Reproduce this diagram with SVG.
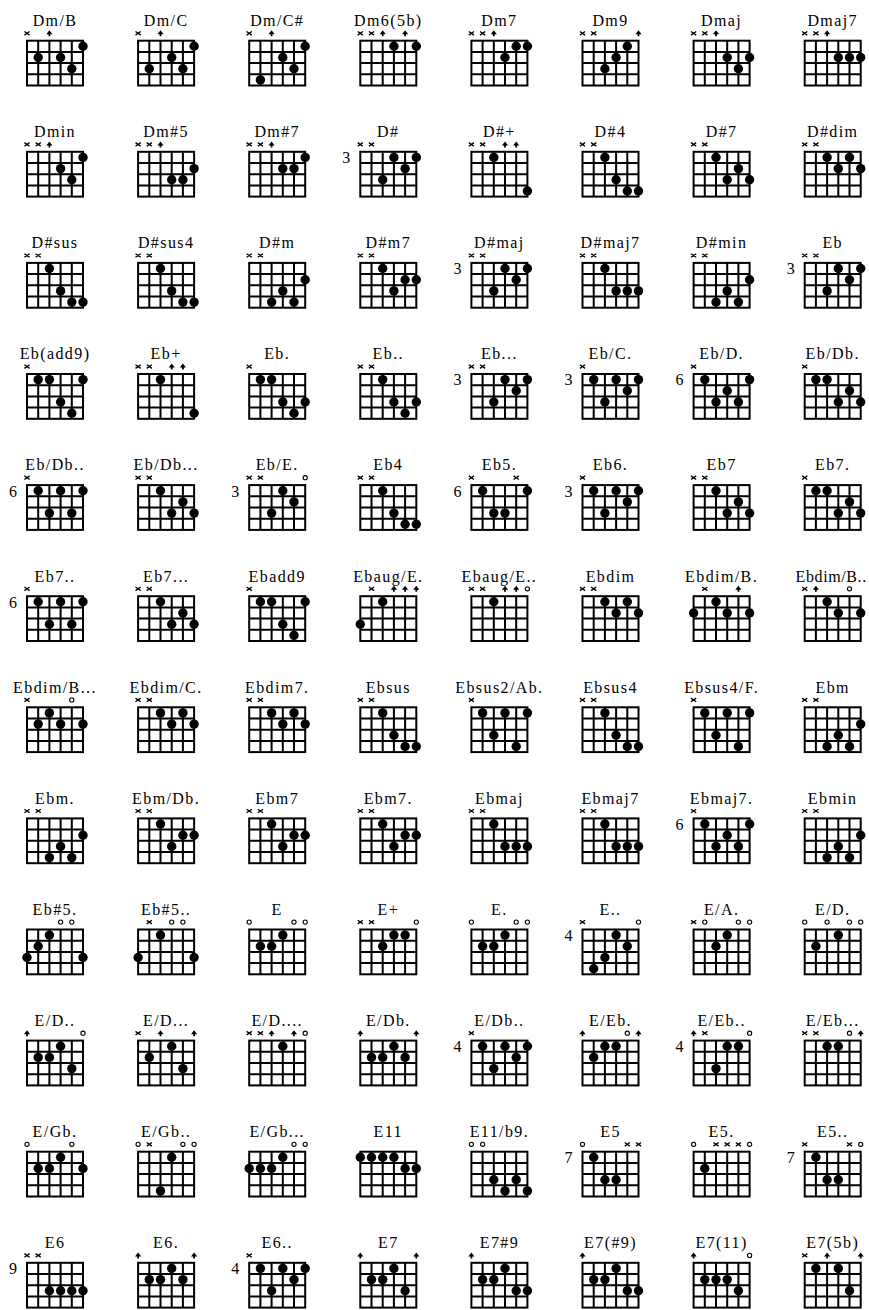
<svg xmlns="http://www.w3.org/2000/svg" width="869" height="1310" viewBox="0 0 869 1310">
<style>
.l{font-family:"Liberation Serif","Times New Roman",serif;font-size:16px;letter-spacing:1.4px;text-anchor:middle;fill:#000}
.f{font-family:"Liberation Serif","Times New Roman",serif;font-size:16px;text-anchor:middle;fill:#000}
.gr{fill:none;stroke:#000;stroke-width:2}
circle{fill:#000}
</style>
<defs>
<g id="grid" class="gr"><rect width="56" height="44.8"/><path d="M11.2 0V44.8M22.4 0V44.8M33.6 0V44.8M44.8 0V44.8M0 11.2H56M0 22.4H56M0 33.6H56"/></g>
<path id="mx" d="M-2.6 -9.2L2.6 -5.6M-2.6 -5.6L2.6 -9.2" fill="none" stroke="#000" stroke-width="1.3"/>
<circle id="mo" cy="-7.4" r="2.1" style="fill:none;stroke:#000;stroke-width:1.1"/>
<path id="m4" d="M-3.1 -6.4L0 -10.4L3.1 -6.4ZM-0.9 -6.6H0.9V-4.4H-0.9Z" fill="#000"/>
</defs>
<rect width="869" height="1310" fill="#fff"/>

<g id="n01" transform="translate(27,40.7)"><text class="l" x="28" y="-14.7">Dm/B</text><use href="#grid"/><use href="#mx" x="0"/><use href="#m4" x="22.4"/><circle cx="56" cy="5.6" r="4.7"/><circle cx="11.2" cy="16.8" r="4.7"/><circle cx="33.6" cy="16.8" r="4.7"/><circle cx="44.8" cy="28" r="4.7"/></g>
<g id="n02" transform="translate(138.1,40.7)"><text class="l" x="28" y="-14.7">Dm/C</text><use href="#grid"/><use href="#mx" x="0"/><use href="#m4" x="22.4"/><circle cx="56" cy="5.6" r="4.7"/><circle cx="33.6" cy="16.8" r="4.7"/><circle cx="11.2" cy="28" r="4.7"/><circle cx="44.8" cy="28" r="4.7"/></g>
<g id="n03" transform="translate(249.2,40.7)"><text class="l" x="28" y="-14.7">Dm/C#</text><use href="#grid"/><use href="#mx" x="0"/><use href="#m4" x="22.4"/><circle cx="56" cy="5.6" r="4.7"/><circle cx="33.6" cy="16.8" r="4.7"/><circle cx="44.8" cy="28" r="4.7"/><circle cx="11.2" cy="39.2" r="4.7"/></g>
<g id="n04" transform="translate(360.3,40.7)"><text class="l" x="28" y="-14.7">Dm6(5b)</text><use href="#grid"/><use href="#mx" x="0"/><use href="#mx" x="11.2"/><use href="#m4" x="22.4"/><use href="#m4" x="44.8"/><circle cx="33.6" cy="5.6" r="4.7"/><circle cx="56" cy="5.6" r="4.7"/></g>
<g id="n05" transform="translate(471.4,40.7)"><text class="l" x="28" y="-14.7">Dm7</text><use href="#grid"/><use href="#mx" x="0"/><use href="#mx" x="11.2"/><use href="#m4" x="22.4"/><circle cx="44.8" cy="5.6" r="4.7"/><circle cx="56" cy="5.6" r="4.7"/><circle cx="33.6" cy="16.8" r="4.7"/></g>
<g id="n06" transform="translate(582.5,40.7)"><text class="l" x="28" y="-14.7">Dm9</text><use href="#grid"/><use href="#mx" x="0"/><use href="#mx" x="11.2"/><use href="#m4" x="56"/><circle cx="44.8" cy="5.6" r="4.7"/><circle cx="33.6" cy="16.8" r="4.7"/><circle cx="22.4" cy="28" r="4.7"/></g>
<g id="n07" transform="translate(693.6,40.7)"><text class="l" x="28" y="-14.7">Dmaj</text><use href="#grid"/><use href="#mx" x="0"/><use href="#mx" x="11.2"/><use href="#m4" x="22.4"/><circle cx="33.6" cy="16.8" r="4.7"/><circle cx="56" cy="16.8" r="4.7"/><circle cx="44.8" cy="28" r="4.7"/></g>
<g id="n08" transform="translate(804.7,40.7)"><text class="l" x="28" y="-14.7">Dmaj7</text><use href="#grid"/><use href="#mx" x="0"/><use href="#mx" x="11.2"/><use href="#m4" x="22.4"/><circle cx="33.6" cy="16.8" r="4.7"/><circle cx="44.8" cy="16.8" r="4.7"/><circle cx="56" cy="16.8" r="4.7"/></g>

<g id="n09" transform="translate(27,151.8)"><text class="l" x="28" y="-14.7">Dmin</text><use href="#grid"/><use href="#mx" x="0"/><use href="#mx" x="11.2"/><use href="#m4" x="22.4"/><circle cx="56" cy="5.6" r="4.7"/><circle cx="33.6" cy="16.8" r="4.7"/><circle cx="44.8" cy="28" r="4.7"/></g>
<g id="n10" transform="translate(138.1,151.8)"><text class="l" x="28" y="-14.7">Dm#5</text><use href="#grid"/><use href="#mx" x="0"/><use href="#mx" x="11.2"/><use href="#m4" x="22.4"/><circle cx="56" cy="16.8" r="4.7"/><circle cx="33.6" cy="28" r="4.7"/><circle cx="44.8" cy="28" r="4.7"/></g>
<g id="n11" transform="translate(249.2,151.8)"><text class="l" x="28" y="-14.7">Dm#7</text><use href="#grid"/><use href="#mx" x="0"/><use href="#mx" x="11.2"/><use href="#m4" x="22.4"/><circle cx="56" cy="5.6" r="4.7"/><circle cx="33.6" cy="16.8" r="4.7"/><circle cx="44.8" cy="16.8" r="4.7"/></g>
<g id="n12" transform="translate(360.3,151.8)"><text class="l" x="28" y="-14.7">D#</text><text class="f" x="-14" y="11.4">3</text><use href="#grid"/><use href="#mx" x="0"/><use href="#mx" x="11.2"/><circle cx="33.6" cy="5.6" r="4.7"/><circle cx="56" cy="5.6" r="4.7"/><circle cx="44.8" cy="16.8" r="4.7"/><circle cx="22.4" cy="28" r="4.7"/></g>
<g id="n13" transform="translate(471.4,151.8)"><text class="l" x="28" y="-14.7">D#+</text><use href="#grid"/><use href="#mx" x="0"/><use href="#mx" x="11.2"/><use href="#m4" x="33.6"/><use href="#m4" x="44.8"/><circle cx="22.4" cy="5.6" r="4.7"/><circle cx="56" cy="39.2" r="4.7"/></g>
<g id="n14" transform="translate(582.5,151.8)"><text class="l" x="28" y="-14.7">D#4</text><use href="#grid"/><use href="#mx" x="0"/><use href="#mx" x="11.2"/><circle cx="22.4" cy="5.6" r="4.7"/><circle cx="33.6" cy="28" r="4.7"/><circle cx="44.8" cy="39.2" r="4.7"/><circle cx="56" cy="39.2" r="4.7"/></g>
<g id="n15" transform="translate(693.6,151.8)"><text class="l" x="28" y="-14.7">D#7</text><use href="#grid"/><use href="#mx" x="0"/><use href="#mx" x="11.2"/><circle cx="22.4" cy="5.6" r="4.7"/><circle cx="44.8" cy="16.8" r="4.7"/><circle cx="33.6" cy="28" r="4.7"/><circle cx="56" cy="28" r="4.7"/></g>
<g id="n16" transform="translate(804.7,151.8)"><text class="l" x="28" y="-14.7">D#dim</text><use href="#grid"/><use href="#mx" x="0"/><use href="#mx" x="11.2"/><circle cx="22.4" cy="5.6" r="4.7"/><circle cx="44.8" cy="5.6" r="4.7"/><circle cx="33.6" cy="16.8" r="4.7"/><circle cx="56" cy="16.8" r="4.7"/></g>

<g id="n17" transform="translate(27,262.9)"><text class="l" x="28" y="-14.7">D#sus</text><use href="#grid"/><use href="#mx" x="0"/><use href="#mx" x="11.2"/><circle cx="22.4" cy="5.6" r="4.7"/><circle cx="33.6" cy="28" r="4.7"/><circle cx="44.8" cy="39.2" r="4.7"/><circle cx="56" cy="39.2" r="4.7"/></g>
<g id="n18" transform="translate(138.1,262.9)"><text class="l" x="28" y="-14.7">D#sus4</text><use href="#grid"/><use href="#mx" x="0"/><use href="#mx" x="11.2"/><circle cx="22.4" cy="5.6" r="4.7"/><circle cx="33.6" cy="28" r="4.7"/><circle cx="44.8" cy="39.2" r="4.7"/><circle cx="56" cy="39.2" r="4.7"/></g>
<g id="n19" transform="translate(249.2,262.9)"><text class="l" x="28" y="-14.7">D#m</text><use href="#grid"/><use href="#mx" x="0"/><use href="#mx" x="11.2"/><circle cx="56" cy="16.8" r="4.7"/><circle cx="33.6" cy="28" r="4.7"/><circle cx="22.4" cy="39.2" r="4.7"/><circle cx="44.8" cy="39.2" r="4.7"/></g>
<g id="n20" transform="translate(360.3,262.9)"><text class="l" x="28" y="-14.7">D#m7</text><use href="#grid"/><use href="#mx" x="0"/><use href="#mx" x="11.2"/><circle cx="22.4" cy="5.6" r="4.7"/><circle cx="44.8" cy="16.8" r="4.7"/><circle cx="56" cy="16.8" r="4.7"/><circle cx="33.6" cy="28" r="4.7"/></g>
<g id="n21" transform="translate(471.4,262.9)"><text class="l" x="28" y="-14.7">D#maj</text><text class="f" x="-14" y="11.4">3</text><use href="#grid"/><use href="#mx" x="0"/><use href="#mx" x="11.2"/><circle cx="33.6" cy="5.6" r="4.7"/><circle cx="56" cy="5.6" r="4.7"/><circle cx="44.8" cy="16.8" r="4.7"/><circle cx="22.4" cy="28" r="4.7"/></g>
<g id="n22" transform="translate(582.5,262.9)"><text class="l" x="28" y="-14.7">D#maj7</text><use href="#grid"/><use href="#mx" x="0"/><use href="#mx" x="11.2"/><circle cx="22.4" cy="5.6" r="4.7"/><circle cx="33.6" cy="28" r="4.7"/><circle cx="44.8" cy="28" r="4.7"/><circle cx="56" cy="28" r="4.7"/></g>
<g id="n23" transform="translate(693.6,262.9)"><text class="l" x="28" y="-14.7">D#min</text><use href="#grid"/><use href="#mx" x="0"/><use href="#mx" x="11.2"/><circle cx="56" cy="16.8" r="4.7"/><circle cx="33.6" cy="28" r="4.7"/><circle cx="22.4" cy="39.2" r="4.7"/><circle cx="44.8" cy="39.2" r="4.7"/></g>
<g id="n24" transform="translate(804.7,262.9)"><text class="l" x="28" y="-14.7">Eb</text><text class="f" x="-14" y="11.4">3</text><use href="#grid"/><use href="#mx" x="0"/><use href="#mx" x="11.2"/><circle cx="33.6" cy="5.6" r="4.7"/><circle cx="56" cy="5.6" r="4.7"/><circle cx="44.8" cy="16.8" r="4.7"/><circle cx="22.4" cy="28" r="4.7"/></g>

<g id="n25" transform="translate(27,374)"><text class="l" x="28" y="-14.7">Eb(add9)</text><use href="#grid"/><use href="#mx" x="0"/><circle cx="11.2" cy="5.6" r="4.7"/><circle cx="22.4" cy="5.6" r="4.7"/><circle cx="56" cy="5.6" r="4.7"/><circle cx="33.6" cy="28" r="4.7"/><circle cx="44.8" cy="39.2" r="4.7"/></g>
<g id="n26" transform="translate(138.1,374)"><text class="l" x="28" y="-14.7">Eb+</text><use href="#grid"/><use href="#mx" x="0"/><use href="#mx" x="11.2"/><use href="#m4" x="33.6"/><use href="#m4" x="44.8"/><circle cx="22.4" cy="5.6" r="4.7"/><circle cx="56" cy="39.2" r="4.7"/></g>
<g id="n27" transform="translate(249.2,374)"><text class="l" x="28" y="-14.7">Eb.</text><use href="#grid"/><use href="#mx" x="0"/><circle cx="11.2" cy="5.6" r="4.7"/><circle cx="22.4" cy="5.6" r="4.7"/><circle cx="33.6" cy="28" r="4.7"/><circle cx="56" cy="28" r="4.7"/><circle cx="44.8" cy="39.2" r="4.7"/></g>
<g id="n28" transform="translate(360.3,374)"><text class="l" x="28" y="-14.7">Eb..</text><use href="#grid"/><use href="#mx" x="0"/><use href="#mx" x="11.2"/><circle cx="22.4" cy="5.6" r="4.7"/><circle cx="33.6" cy="28" r="4.7"/><circle cx="56" cy="28" r="4.7"/><circle cx="44.8" cy="39.2" r="4.7"/></g>
<g id="n29" transform="translate(471.4,374)"><text class="l" x="28" y="-14.7">Eb...</text><text class="f" x="-14" y="11.4">3</text><use href="#grid"/><use href="#mx" x="0"/><use href="#mx" x="11.2"/><circle cx="33.6" cy="5.6" r="4.7"/><circle cx="56" cy="5.6" r="4.7"/><circle cx="44.8" cy="16.8" r="4.7"/><circle cx="22.4" cy="28" r="4.7"/></g>
<g id="n30" transform="translate(582.5,374)"><text class="l" x="28" y="-14.7">Eb/C.</text><text class="f" x="-14" y="11.4">3</text><use href="#grid"/><use href="#mx" x="0"/><circle cx="11.2" cy="5.6" r="4.7"/><circle cx="33.6" cy="5.6" r="4.7"/><circle cx="56" cy="5.6" r="4.7"/><circle cx="44.8" cy="16.8" r="4.7"/><circle cx="22.4" cy="28" r="4.7"/></g>
<g id="n31" transform="translate(693.6,374)"><text class="l" x="28" y="-14.7">Eb/D.</text><text class="f" x="-14" y="11.4">6</text><use href="#grid"/><use href="#mx" x="0"/><circle cx="11.2" cy="5.6" r="4.7"/><circle cx="56" cy="5.6" r="4.7"/><circle cx="33.6" cy="16.8" r="4.7"/><circle cx="22.4" cy="28" r="4.7"/><circle cx="44.8" cy="28" r="4.7"/></g>
<g id="n32" transform="translate(804.7,374)"><text class="l" x="28" y="-14.7">Eb/Db.</text><use href="#grid"/><use href="#mx" x="0"/><circle cx="11.2" cy="5.6" r="4.7"/><circle cx="22.4" cy="5.6" r="4.7"/><circle cx="44.8" cy="16.8" r="4.7"/><circle cx="33.6" cy="28" r="4.7"/><circle cx="56" cy="28" r="4.7"/></g>

<g id="n33" transform="translate(27,485.1)"><text class="l" x="28" y="-14.7">Eb/Db..</text><text class="f" x="-14" y="11.4">6</text><use href="#grid"/><use href="#mx" x="0"/><circle cx="11.2" cy="5.6" r="4.7"/><circle cx="33.6" cy="5.6" r="4.7"/><circle cx="56" cy="5.6" r="4.7"/><circle cx="22.4" cy="28" r="4.7"/><circle cx="44.8" cy="28" r="4.7"/></g>
<g id="n34" transform="translate(138.1,485.1)"><text class="l" x="28" y="-14.7">Eb/Db...</text><use href="#grid"/><use href="#mx" x="0"/><use href="#mx" x="11.2"/><circle cx="22.4" cy="5.6" r="4.7"/><circle cx="44.8" cy="16.8" r="4.7"/><circle cx="33.6" cy="28" r="4.7"/><circle cx="56" cy="28" r="4.7"/></g>
<g id="n35" transform="translate(249.2,485.1)"><text class="l" x="28" y="-14.7">Eb/E.</text><text class="f" x="-14" y="11.4">3</text><use href="#grid"/><use href="#mx" x="0"/><use href="#mx" x="11.2"/><use href="#mo" x="56"/><circle cx="33.6" cy="5.6" r="4.7"/><circle cx="44.8" cy="16.8" r="4.7"/><circle cx="22.4" cy="28" r="4.7"/></g>
<g id="n36" transform="translate(360.3,485.1)"><text class="l" x="28" y="-14.7">Eb4</text><use href="#grid"/><use href="#mx" x="0"/><use href="#mx" x="11.2"/><circle cx="22.4" cy="5.6" r="4.7"/><circle cx="33.6" cy="28" r="4.7"/><circle cx="44.8" cy="39.2" r="4.7"/><circle cx="56" cy="39.2" r="4.7"/></g>
<g id="n37" transform="translate(471.4,485.1)"><text class="l" x="28" y="-14.7">Eb5.</text><text class="f" x="-14" y="11.4">6</text><use href="#grid"/><use href="#mx" x="0"/><use href="#mx" x="44.8"/><circle cx="11.2" cy="5.6" r="4.7"/><circle cx="56" cy="5.6" r="4.7"/><circle cx="22.4" cy="28" r="4.7"/><circle cx="33.6" cy="28" r="4.7"/></g>
<g id="n38" transform="translate(582.5,485.1)"><text class="l" x="28" y="-14.7">Eb6.</text><text class="f" x="-14" y="11.4">3</text><use href="#grid"/><use href="#mx" x="0"/><circle cx="11.2" cy="5.6" r="4.7"/><circle cx="33.6" cy="5.6" r="4.7"/><circle cx="56" cy="5.6" r="4.7"/><circle cx="44.8" cy="16.8" r="4.7"/><circle cx="22.4" cy="28" r="4.7"/></g>
<g id="n39" transform="translate(693.6,485.1)"><text class="l" x="28" y="-14.7">Eb7</text><use href="#grid"/><use href="#mx" x="0"/><use href="#mx" x="11.2"/><circle cx="22.4" cy="5.6" r="4.7"/><circle cx="44.8" cy="16.8" r="4.7"/><circle cx="33.6" cy="28" r="4.7"/><circle cx="56" cy="28" r="4.7"/></g>
<g id="n40" transform="translate(804.7,485.1)"><text class="l" x="28" y="-14.7">Eb7.</text><use href="#grid"/><use href="#mx" x="0"/><circle cx="11.2" cy="5.6" r="4.7"/><circle cx="22.4" cy="5.6" r="4.7"/><circle cx="44.8" cy="16.8" r="4.7"/><circle cx="33.6" cy="28" r="4.7"/><circle cx="56" cy="28" r="4.7"/></g>

<g id="n41" transform="translate(27,596.2)"><text class="l" x="28" y="-14.7">Eb7..</text><text class="f" x="-14" y="11.4">6</text><use href="#grid"/><use href="#mx" x="0"/><circle cx="11.2" cy="5.6" r="4.7"/><circle cx="33.6" cy="5.6" r="4.7"/><circle cx="56" cy="5.6" r="4.7"/><circle cx="22.4" cy="28" r="4.7"/><circle cx="44.8" cy="28" r="4.7"/></g>
<g id="n42" transform="translate(138.1,596.2)"><text class="l" x="28" y="-14.7">Eb7...</text><use href="#grid"/><use href="#mx" x="0"/><use href="#mx" x="11.2"/><circle cx="22.4" cy="5.6" r="4.7"/><circle cx="44.8" cy="16.8" r="4.7"/><circle cx="33.6" cy="28" r="4.7"/><circle cx="56" cy="28" r="4.7"/></g>
<g id="n43" transform="translate(249.2,596.2)"><text class="l" x="28" y="-14.7">Ebadd9</text><use href="#grid"/><use href="#mx" x="0"/><circle cx="11.2" cy="5.6" r="4.7"/><circle cx="22.4" cy="5.6" r="4.7"/><circle cx="56" cy="5.6" r="4.7"/><circle cx="33.6" cy="28" r="4.7"/><circle cx="44.8" cy="39.2" r="4.7"/></g>
<g id="n44" transform="translate(360.3,596.2)"><text class="l" x="28" y="-14.7">Ebaug/E.</text><use href="#grid"/><use href="#mx" x="11.2"/><use href="#m4" x="33.6"/><use href="#m4" x="44.8"/><use href="#m4" x="56"/><circle cx="22.4" cy="5.6" r="4.7"/><circle cx="0" cy="28" r="4.7"/></g>
<g id="n45" transform="translate(471.4,596.2)"><text class="l" x="28" y="-14.7">Ebaug/E..</text><use href="#grid"/><use href="#mx" x="0"/><use href="#mx" x="11.2"/><use href="#m4" x="33.6"/><use href="#m4" x="44.8"/><use href="#mo" x="56"/><circle cx="22.4" cy="5.6" r="4.7"/></g>
<g id="n46" transform="translate(582.5,596.2)"><text class="l" x="28" y="-14.7">Ebdim</text><use href="#grid"/><use href="#mx" x="0"/><use href="#mx" x="11.2"/><circle cx="22.4" cy="5.6" r="4.7"/><circle cx="44.8" cy="5.6" r="4.7"/><circle cx="33.6" cy="16.8" r="4.7"/><circle cx="56" cy="16.8" r="4.7"/></g>
<g id="n47" transform="translate(693.6,596.2)"><text class="l" x="28" y="-14.7">Ebdim/B.</text><use href="#grid"/><use href="#mx" x="11.2"/><use href="#m4" x="44.8"/><circle cx="22.4" cy="5.6" r="4.7"/><circle cx="0" cy="16.8" r="4.7"/><circle cx="33.6" cy="16.8" r="4.7"/><circle cx="56" cy="16.8" r="4.7"/></g>
<g id="n48" transform="translate(804.7,596.2)"><text class="l" x="26.5" y="-14.7" style="letter-spacing:0.6px">Ebdim/B..</text><use href="#grid"/><use href="#mx" x="0"/><use href="#m4" x="11.2"/><use href="#mo" x="44.8"/><circle cx="22.4" cy="5.6" r="4.7"/><circle cx="33.6" cy="16.8" r="4.7"/><circle cx="56" cy="16.8" r="4.7"/></g>

<g id="n49" transform="translate(27,707.3)"><text class="l" x="28" y="-14.7">Ebdim/B...</text><use href="#grid"/><use href="#mx" x="0"/><use href="#mo" x="44.8"/><circle cx="22.4" cy="5.6" r="4.7"/><circle cx="11.2" cy="16.8" r="4.7"/><circle cx="33.6" cy="16.8" r="4.7"/><circle cx="56" cy="16.8" r="4.7"/></g>
<g id="n50" transform="translate(138.1,707.3)"><text class="l" x="28" y="-14.7">Ebdim/C.</text><use href="#grid"/><use href="#mx" x="0"/><use href="#mx" x="11.2"/><circle cx="22.4" cy="5.6" r="4.7"/><circle cx="44.8" cy="5.6" r="4.7"/><circle cx="33.6" cy="16.8" r="4.7"/><circle cx="56" cy="16.8" r="4.7"/></g>
<g id="n51" transform="translate(249.2,707.3)"><text class="l" x="28" y="-14.7">Ebdim7.</text><use href="#grid"/><use href="#mx" x="0"/><use href="#mx" x="11.2"/><circle cx="22.4" cy="5.6" r="4.7"/><circle cx="44.8" cy="5.6" r="4.7"/><circle cx="33.6" cy="16.8" r="4.7"/><circle cx="56" cy="16.8" r="4.7"/></g>
<g id="n52" transform="translate(360.3,707.3)"><text class="l" x="28" y="-14.7">Ebsus</text><use href="#grid"/><use href="#mx" x="0"/><use href="#mx" x="11.2"/><circle cx="22.4" cy="5.6" r="4.7"/><circle cx="33.6" cy="28" r="4.7"/><circle cx="44.8" cy="39.2" r="4.7"/><circle cx="56" cy="39.2" r="4.7"/></g>
<g id="n53" transform="translate(471.4,707.3)"><text class="l" x="28" y="-14.7">Ebsus2/Ab.</text><use href="#grid"/><use href="#mx" x="0"/><circle cx="11.2" cy="5.6" r="4.7"/><circle cx="33.6" cy="5.6" r="4.7"/><circle cx="56" cy="5.6" r="4.7"/><circle cx="22.4" cy="28" r="4.7"/><circle cx="44.8" cy="39.2" r="4.7"/></g>
<g id="n54" transform="translate(582.5,707.3)"><text class="l" x="28" y="-14.7">Ebsus4</text><use href="#grid"/><use href="#mx" x="0"/><use href="#mx" x="11.2"/><circle cx="22.4" cy="5.6" r="4.7"/><circle cx="33.6" cy="28" r="4.7"/><circle cx="44.8" cy="39.2" r="4.7"/><circle cx="56" cy="39.2" r="4.7"/></g>
<g id="n55" transform="translate(693.6,707.3)"><text class="l" x="28" y="-14.7">Ebsus4/F.</text><use href="#grid"/><use href="#mx" x="0"/><circle cx="11.2" cy="5.6" r="4.7"/><circle cx="33.6" cy="5.6" r="4.7"/><circle cx="56" cy="5.6" r="4.7"/><circle cx="22.4" cy="28" r="4.7"/><circle cx="44.8" cy="39.2" r="4.7"/></g>
<g id="n56" transform="translate(804.7,707.3)"><text class="l" x="28" y="-14.7">Ebm</text><use href="#grid"/><use href="#mx" x="0"/><use href="#mx" x="11.2"/><circle cx="56" cy="16.8" r="4.7"/><circle cx="33.6" cy="28" r="4.7"/><circle cx="22.4" cy="39.2" r="4.7"/><circle cx="44.8" cy="39.2" r="4.7"/></g>

<g id="n57" transform="translate(27,818.4)"><text class="l" x="28" y="-14.7">Ebm.</text><use href="#grid"/><use href="#mx" x="0"/><use href="#mx" x="11.2"/><circle cx="56" cy="16.8" r="4.7"/><circle cx="33.6" cy="28" r="4.7"/><circle cx="22.4" cy="39.2" r="4.7"/><circle cx="44.8" cy="39.2" r="4.7"/></g>
<g id="n58" transform="translate(138.1,818.4)"><text class="l" x="28" y="-14.7">Ebm/Db.</text><use href="#grid"/><use href="#mx" x="0"/><use href="#mx" x="11.2"/><circle cx="22.4" cy="5.6" r="4.7"/><circle cx="44.8" cy="16.8" r="4.7"/><circle cx="56" cy="16.8" r="4.7"/><circle cx="33.6" cy="28" r="4.7"/></g>
<g id="n59" transform="translate(249.2,818.4)"><text class="l" x="28" y="-14.7">Ebm7</text><use href="#grid"/><use href="#mx" x="0"/><use href="#mx" x="11.2"/><circle cx="22.4" cy="5.6" r="4.7"/><circle cx="44.8" cy="16.8" r="4.7"/><circle cx="56" cy="16.8" r="4.7"/><circle cx="33.6" cy="28" r="4.7"/></g>
<g id="n60" transform="translate(360.3,818.4)"><text class="l" x="28" y="-14.7">Ebm7.</text><use href="#grid"/><use href="#mx" x="0"/><use href="#mx" x="11.2"/><circle cx="22.4" cy="5.6" r="4.7"/><circle cx="44.8" cy="16.8" r="4.7"/><circle cx="56" cy="16.8" r="4.7"/><circle cx="33.6" cy="28" r="4.7"/></g>
<g id="n61" transform="translate(471.4,818.4)"><text class="l" x="28" y="-14.7">Ebmaj</text><use href="#grid"/><use href="#mx" x="0"/><use href="#mx" x="11.2"/><circle cx="22.4" cy="5.6" r="4.7"/><circle cx="33.6" cy="28" r="4.7"/><circle cx="44.8" cy="28" r="4.7"/><circle cx="56" cy="28" r="4.7"/></g>
<g id="n62" transform="translate(582.5,818.4)"><text class="l" x="28" y="-14.7">Ebmaj7</text><use href="#grid"/><use href="#mx" x="0"/><use href="#mx" x="11.2"/><circle cx="22.4" cy="5.6" r="4.7"/><circle cx="33.6" cy="28" r="4.7"/><circle cx="44.8" cy="28" r="4.7"/><circle cx="56" cy="28" r="4.7"/></g>
<g id="n63" transform="translate(693.6,818.4)"><text class="l" x="28" y="-14.7">Ebmaj7.</text><text class="f" x="-14" y="11.4">6</text><use href="#grid"/><use href="#mx" x="0"/><circle cx="11.2" cy="5.6" r="4.7"/><circle cx="56" cy="5.6" r="4.7"/><circle cx="33.6" cy="16.8" r="4.7"/><circle cx="22.4" cy="28" r="4.7"/><circle cx="44.8" cy="28" r="4.7"/></g>
<g id="n64" transform="translate(804.7,818.4)"><text class="l" x="28" y="-14.7">Ebmin</text><use href="#grid"/><use href="#mx" x="0"/><use href="#mx" x="11.2"/><circle cx="56" cy="16.8" r="4.7"/><circle cx="33.6" cy="28" r="4.7"/><circle cx="22.4" cy="39.2" r="4.7"/><circle cx="44.8" cy="39.2" r="4.7"/></g>

<g id="n65" transform="translate(27,929.5)"><text class="l" x="28" y="-14.7">Eb#5.</text><use href="#grid"/><use href="#mo" x="33.6"/><use href="#mo" x="44.8"/><circle cx="22.4" cy="5.6" r="4.7"/><circle cx="11.2" cy="16.8" r="4.7"/><circle cx="0" cy="28" r="4.7"/><circle cx="56" cy="28" r="4.7"/></g>
<g id="n66" transform="translate(138.1,929.5)"><text class="l" x="28" y="-14.7">Eb#5..</text><use href="#grid"/><use href="#mx" x="11.2"/><use href="#mo" x="33.6"/><use href="#mo" x="44.8"/><circle cx="22.4" cy="5.6" r="4.7"/><circle cx="0" cy="28" r="4.7"/><circle cx="56" cy="28" r="4.7"/></g>
<g id="n67" transform="translate(249.2,929.5)"><text class="l" x="28" y="-14.7">E</text><use href="#grid"/><use href="#mo" x="0"/><use href="#mo" x="44.8"/><use href="#mo" x="56"/><circle cx="33.6" cy="5.6" r="4.7"/><circle cx="11.2" cy="16.8" r="4.7"/><circle cx="22.4" cy="16.8" r="4.7"/></g>
<g id="n68" transform="translate(360.3,929.5)"><text class="l" x="28" y="-14.7">E+</text><use href="#grid"/><use href="#mx" x="0"/><use href="#mx" x="11.2"/><use href="#mo" x="56"/><circle cx="33.6" cy="5.6" r="4.7"/><circle cx="44.8" cy="5.6" r="4.7"/><circle cx="22.4" cy="16.8" r="4.7"/></g>
<g id="n69" transform="translate(471.4,929.5)"><text class="l" x="28" y="-14.7">E.</text><use href="#grid"/><use href="#mo" x="0"/><use href="#mo" x="44.8"/><use href="#mo" x="56"/><circle cx="33.6" cy="5.6" r="4.7"/><circle cx="11.2" cy="16.8" r="4.7"/><circle cx="22.4" cy="16.8" r="4.7"/></g>
<g id="n70" transform="translate(582.5,929.5)"><text class="l" x="28" y="-14.7">E..</text><text class="f" x="-14" y="11.4">4</text><use href="#grid"/><use href="#mx" x="0"/><use href="#mo" x="56"/><circle cx="33.6" cy="5.6" r="4.7"/><circle cx="44.8" cy="16.8" r="4.7"/><circle cx="22.4" cy="28" r="4.7"/><circle cx="11.2" cy="39.2" r="4.7"/></g>
<g id="n71" transform="translate(693.6,929.5)"><text class="l" x="28" y="-14.7">E/A.</text><use href="#grid"/><use href="#mx" x="0"/><use href="#mo" x="11.2"/><use href="#mo" x="44.8"/><use href="#mo" x="56"/><circle cx="33.6" cy="5.6" r="4.7"/><circle cx="22.4" cy="16.8" r="4.7"/></g>
<g id="n72" transform="translate(804.7,929.5)"><text class="l" x="28" y="-14.7">E/D.</text><use href="#grid"/><use href="#mo" x="0"/><use href="#mo" x="22.4"/><use href="#mo" x="44.8"/><use href="#mo" x="56"/><circle cx="33.6" cy="5.6" r="4.7"/><circle cx="11.2" cy="16.8" r="4.7"/></g>

<g id="n73" transform="translate(27,1040.6)"><text class="l" x="28" y="-14.7">E/D..</text><use href="#grid"/><use href="#m4" x="0"/><use href="#mo" x="56"/><circle cx="33.6" cy="5.6" r="4.7"/><circle cx="11.2" cy="16.8" r="4.7"/><circle cx="22.4" cy="16.8" r="4.7"/><circle cx="44.8" cy="28" r="4.7"/></g>
<g id="n74" transform="translate(138.1,1040.6)"><text class="l" x="28" y="-14.7">E/D...</text><use href="#grid"/><use href="#mx" x="0"/><use href="#m4" x="22.4"/><use href="#m4" x="56"/><circle cx="33.6" cy="5.6" r="4.7"/><circle cx="11.2" cy="16.8" r="4.7"/><circle cx="44.8" cy="28" r="4.7"/></g>
<g id="n75" transform="translate(249.2,1040.6)"><text class="l" x="28" y="-14.7">E/D....</text><use href="#grid"/><use href="#mx" x="0"/><use href="#mx" x="11.2"/><use href="#m4" x="22.4"/><use href="#m4" x="44.8"/><use href="#mo" x="56"/><circle cx="33.6" cy="5.6" r="4.7"/></g>
<g id="n76" transform="translate(360.3,1040.6)"><text class="l" x="28" y="-14.7">E/Db.</text><use href="#grid"/><use href="#m4" x="0"/><use href="#m4" x="56"/><circle cx="33.6" cy="5.6" r="4.7"/><circle cx="11.2" cy="16.8" r="4.7"/><circle cx="22.4" cy="16.8" r="4.7"/><circle cx="44.8" cy="16.8" r="4.7"/></g>
<g id="n77" transform="translate(471.4,1040.6)"><text class="l" x="28" y="-14.7">E/Db..</text><text class="f" x="-14" y="11.4">4</text><use href="#grid"/><use href="#mx" x="0"/><circle cx="11.2" cy="5.6" r="4.7"/><circle cx="33.6" cy="5.6" r="4.7"/><circle cx="56" cy="5.6" r="4.7"/><circle cx="44.8" cy="16.8" r="4.7"/><circle cx="22.4" cy="28" r="4.7"/></g>
<g id="n78" transform="translate(582.5,1040.6)"><text class="l" x="28" y="-14.7">E/Eb.</text><use href="#grid"/><use href="#m4" x="0"/><use href="#mo" x="44.8"/><use href="#m4" x="56"/><circle cx="22.4" cy="5.6" r="4.7"/><circle cx="33.6" cy="5.6" r="4.7"/><circle cx="11.2" cy="16.8" r="4.7"/></g>
<g id="n79" transform="translate(693.6,1040.6)"><text class="l" x="28" y="-14.7">E/Eb..</text><text class="f" x="-14" y="11.4">4</text><use href="#grid"/><use href="#m4" x="0"/><use href="#mx" x="11.2"/><use href="#mo" x="56"/><circle cx="33.6" cy="5.6" r="4.7"/><circle cx="44.8" cy="5.6" r="4.7"/><circle cx="22.4" cy="28" r="4.7"/></g>
<g id="n80" transform="translate(804.7,1040.6)"><text class="l" x="28" y="-14.7">E/Eb...</text><use href="#grid"/><use href="#mx" x="0"/><use href="#mx" x="11.2"/><use href="#mo" x="44.8"/><use href="#m4" x="56"/><circle cx="22.4" cy="5.6" r="4.7"/><circle cx="33.6" cy="5.6" r="4.7"/></g>

<g id="n81" transform="translate(27,1151.7)"><text class="l" x="28" y="-14.7">E/Gb.</text><use href="#grid"/><use href="#mo" x="0"/><use href="#mo" x="44.8"/><circle cx="33.6" cy="5.6" r="4.7"/><circle cx="11.2" cy="16.8" r="4.7"/><circle cx="22.4" cy="16.8" r="4.7"/><circle cx="56" cy="16.8" r="4.7"/></g>
<g id="n82" transform="translate(138.1,1151.7)"><text class="l" x="28" y="-14.7">E/Gb..</text><use href="#grid"/><use href="#mo" x="0"/><use href="#mx" x="11.2"/><use href="#mo" x="44.8"/><use href="#mo" x="56"/><circle cx="33.6" cy="5.6" r="4.7"/><circle cx="22.4" cy="39.2" r="4.7"/></g>
<g id="n83" transform="translate(249.2,1151.7)"><text class="l" x="28" y="-14.7">E/Gb...</text><use href="#grid"/><use href="#mo" x="44.8"/><use href="#mo" x="56"/><circle cx="33.6" cy="5.6" r="4.7"/><circle cx="0" cy="16.8" r="4.7"/><circle cx="11.2" cy="16.8" r="4.7"/><circle cx="22.4" cy="16.8" r="4.7"/></g>
<g id="n84" transform="translate(360.3,1151.7)"><text class="l" x="28" y="-14.7">E11</text><use href="#grid"/><circle cx="0" cy="5.6" r="4.7"/><circle cx="11.2" cy="5.6" r="4.7"/><circle cx="22.4" cy="5.6" r="4.7"/><circle cx="33.6" cy="5.6" r="4.7"/><circle cx="44.8" cy="16.8" r="4.7"/><circle cx="56" cy="16.8" r="4.7"/></g>
<g id="n85" transform="translate(471.4,1151.7)"><text class="l" x="28" y="-14.7">E11/b9.</text><use href="#grid"/><use href="#mo" x="0"/><use href="#mo" x="11.2"/><circle cx="22.4" cy="28" r="4.7"/><circle cx="44.8" cy="28" r="4.7"/><circle cx="33.6" cy="39.2" r="4.7"/><circle cx="56" cy="39.2" r="4.7"/></g>
<g id="n86" transform="translate(582.5,1151.7)"><text class="l" x="28" y="-14.7">E5</text><text class="f" x="-14" y="11.4">7</text><use href="#grid"/><use href="#mo" x="0"/><use href="#mx" x="44.8"/><use href="#mx" x="56"/><circle cx="11.2" cy="5.6" r="4.7"/><circle cx="22.4" cy="28" r="4.7"/><circle cx="33.6" cy="28" r="4.7"/></g>
<g id="n87" transform="translate(693.6,1151.7)"><text class="l" x="28" y="-14.7">E5.</text><use href="#grid"/><use href="#mo" x="0"/><use href="#mx" x="22.4"/><use href="#mx" x="33.6"/><use href="#mx" x="44.8"/><use href="#mo" x="56"/><circle cx="11.2" cy="16.8" r="4.7"/></g>
<g id="n88" transform="translate(804.7,1151.7)"><text class="l" x="28" y="-14.7">E5..</text><text class="f" x="-14" y="11.4">7</text><use href="#grid"/><use href="#mx" x="0"/><use href="#mx" x="44.8"/><use href="#mo" x="56"/><circle cx="11.2" cy="5.6" r="4.7"/><circle cx="22.4" cy="28" r="4.7"/><circle cx="33.6" cy="28" r="4.7"/></g>

<g id="n89" transform="translate(27,1262.8)"><text class="l" x="28" y="-14.7">E6</text><text class="f" x="-14" y="11.4">9</text><use href="#grid"/><use href="#mx" x="0"/><use href="#mx" x="11.2"/><circle cx="22.4" cy="28" r="4.7"/><circle cx="33.6" cy="28" r="4.7"/><circle cx="44.8" cy="28" r="4.7"/><circle cx="56" cy="28" r="4.7"/></g>
<g id="n90" transform="translate(138.1,1262.8)"><text class="l" x="28" y="-14.7">E6.</text><use href="#grid"/><use href="#m4" x="0"/><use href="#m4" x="56"/><circle cx="33.6" cy="5.6" r="4.7"/><circle cx="11.2" cy="16.8" r="4.7"/><circle cx="22.4" cy="16.8" r="4.7"/><circle cx="44.8" cy="16.8" r="4.7"/></g>
<g id="n91" transform="translate(249.2,1262.8)"><text class="l" x="28" y="-14.7">E6..</text><text class="f" x="-14" y="11.4">4</text><use href="#grid"/><use href="#mx" x="0"/><circle cx="11.2" cy="5.6" r="4.7"/><circle cx="33.6" cy="5.6" r="4.7"/><circle cx="56" cy="5.6" r="4.7"/><circle cx="44.8" cy="16.8" r="4.7"/><circle cx="22.4" cy="28" r="4.7"/></g>
<g id="n92" transform="translate(360.3,1262.8)"><text class="l" x="28" y="-14.7">E7</text><use href="#grid"/><use href="#m4" x="0"/><use href="#m4" x="56"/><circle cx="33.6" cy="5.6" r="4.7"/><circle cx="11.2" cy="16.8" r="4.7"/><circle cx="22.4" cy="16.8" r="4.7"/><circle cx="44.8" cy="28" r="4.7"/></g>
<g id="n93" transform="translate(471.4,1262.8)"><text class="l" x="28" y="-14.7">E7#9</text><use href="#grid"/><use href="#m4" x="0"/><circle cx="33.6" cy="5.6" r="4.7"/><circle cx="11.2" cy="16.8" r="4.7"/><circle cx="22.4" cy="16.8" r="4.7"/><circle cx="44.8" cy="28" r="4.7"/><circle cx="56" cy="28" r="4.7"/></g>
<g id="n94" transform="translate(582.5,1262.8)"><text class="l" x="28" y="-14.7">E7(#9)</text><use href="#grid"/><use href="#m4" x="0"/><circle cx="33.6" cy="5.6" r="4.7"/><circle cx="11.2" cy="16.8" r="4.7"/><circle cx="22.4" cy="16.8" r="4.7"/><circle cx="44.8" cy="28" r="4.7"/><circle cx="56" cy="28" r="4.7"/></g>
<g id="n95" transform="translate(693.6,1262.8)"><text class="l" x="28" y="-14.7">E7(11)</text><use href="#grid"/><use href="#m4" x="0"/><use href="#mo" x="56"/><circle cx="11.2" cy="16.8" r="4.7"/><circle cx="22.4" cy="16.8" r="4.7"/><circle cx="33.6" cy="16.8" r="4.7"/><circle cx="44.8" cy="28" r="4.7"/></g>
<g id="n96" transform="translate(804.7,1262.8)"><text class="l" x="28" y="-14.7">E7(5b)</text><use href="#grid"/><use href="#mx" x="0"/><use href="#m4" x="22.4"/><use href="#m4" x="56"/><circle cx="11.2" cy="5.6" r="4.7"/><circle cx="33.6" cy="5.6" r="4.7"/><circle cx="44.8" cy="28" r="4.7"/></g>
<g id="connectors"/>
</svg>
